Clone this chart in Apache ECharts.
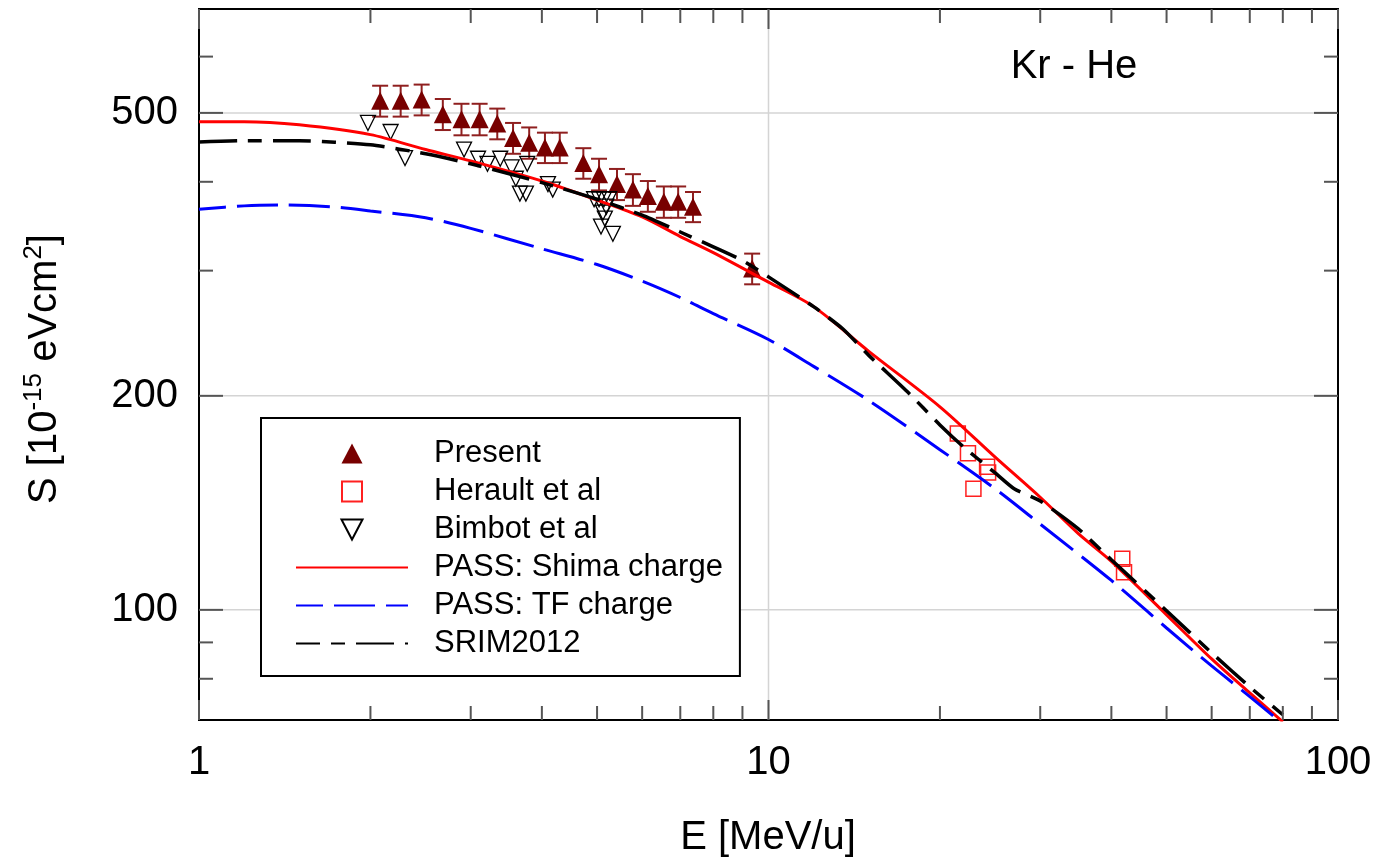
<!DOCTYPE html>
<html><head><meta charset="utf-8">
<script src="https://cdn.jsdelivr.net/npm/echarts@6/dist/echarts.min.js"></script>
<style>html,body{margin:0;padding:0;background:#fff}#c{width:1396px;height:866px}</style>
</head><body><div id="c"></div><script>
const FONT = "'Liberation Sans', Arial, Helvetica, sans-serif";

// ---- data ----
const presentE = [2.08, 2.26, 2.46, 2.68, 2.89, 3.11, 3.34, 3.56, 3.80, 4.05, 4.30, 4.73, 5.04, 5.42, 5.78, 6.14, 6.55, 6.94, 7.37, 9.36];
const presentS = [520, 520, 522, 498, 490, 490, 483, 461, 454, 447, 447, 425, 410, 397, 390, 382, 375, 375, 369, 302];
const presentErr = [26, 26, 26, 25, 25, 25, 24, 23, 23, 22, 22, 21, 21, 20, 20, 19, 19, 19, 18, 15];

const heraultE = [21.5, 22.4, 22.9, 24.2, 24.3, 41.8, 42.1];
const heraultS = [177, 166, 148, 159, 156, 118, 113];

const bimbotE = [1.98, 2.17, 2.30, 2.92, 3.09, 3.21, 3.38, 3.54, 3.60, 3.66, 3.75, 3.77, 4.10, 4.18, 4.94, 5.04, 5.14, 5.25, 5.19, 5.12, 5.16, 5.08, 5.33];
const bimbotS = [484, 470, 432, 444, 431, 424, 431, 419, 404, 385, 385, 424, 397, 390, 378, 378, 378, 378, 369, 362, 355, 346, 338];

const shimaE = [1, 1.2, 1.5, 2, 2.5, 3, 4, 5, 6, 7, 8, 10, 12, 15, 20, 25, 30, 35, 40, 50, 60, 70, 80];
const shimaS = [486, 486, 481, 466, 444, 428, 401, 377, 357, 335, 318, 289, 267, 231, 193, 164, 144, 128, 117, 98.4, 85.3, 76.4, 69.6];

const tfE = [1, 1.2, 1.4, 1.7, 2, 2.5, 3, 4, 5, 6, 7, 8, 10, 12, 15, 20, 25, 30, 40, 50, 60, 70, 80];
const tfS = [366, 370, 371, 369, 364, 356, 344, 322, 306, 290, 275, 261, 240, 220, 197, 168, 148, 132, 110, 94.3, 83.4, 75.5, 69.1];

const srimE = [1, 1.2, 1.5, 2, 2.5, 3, 4, 5, 6, 7, 8, 9, 10, 12, 13.5, 15, 17.5, 20, 22, 25, 27, 30, 35, 40, 50, 60, 70, 80];
const srimS = [455, 457, 457, 451, 438, 424, 399, 378, 359, 340, 324, 310, 294, 267, 248.5, 228, 203, 182, 169.5, 155.8, 148, 142.3, 130, 117.6, 99.7, 87, 77.9, 71.2];

const xTickMajor = [1, 10, 100];
const xTickMinor = [2, 3, 4, 5, 6, 7, 8, 9, 20, 30, 40, 50, 60, 70, 80, 90];
const yTickMajor = [100, 200, 500];
const yTickMinor = [80, 90, 300, 400, 600];
const xGridVals = [10];
const yGridVals = [100, 200, 500];
const xTickLabels = ['1', '10', '100'];
const yTickLabels = ['100', '200', '500'];

const X_MIN = 1, X_MAX = 100, Y_MIN = 70, Y_MAX = 700;

// ---- build ----
const zip = (a, b) => a.map((v, i) => [v, b[i]]);

const tickData = [];
xTickMajor.forEach(v => tickData.push([v, 100, 0, 1]));
xTickMinor.forEach(v => tickData.push([v, 100, 0, 0]));
yTickMajor.forEach(v => tickData.push([1, v, 1, 1]));
yTickMinor.forEach(v => tickData.push([1, v, 1, 0]));

const gridData = [];
xGridVals.forEach(v => gridData.push([v, 100, 0]));
yGridVals.forEach(v => gridData.push([1, v, 1]));

const labelData = [];
xTickMajor.forEach((v, i) => labelData.push([v, Y_MIN, 0, i]));
yTickMajor.forEach((v, i) => labelData.push([X_MIN, v, 1, i]));

const chart = echarts.init(document.getElementById('c'));
chart.setOption({
  animation: false,
  backgroundColor: '#fff',
  grid: { left: 199, top: 9, width: 1139, height: 711, show: true, borderColor: '#000', borderWidth: 2, backgroundColor: 'transparent' },
  xAxis: { type: 'log', logBase: 10, min: X_MIN, max: X_MAX,
    axisLine: { show: false }, axisTick: { show: false }, axisLabel: { show: false }, splitLine: { show: false } },
  yAxis: { type: 'log', logBase: 10, min: Y_MIN, max: Y_MAX,
    axisLine: { show: false }, axisTick: { show: false }, axisLabel: { show: false }, splitLine: { show: false } },
  legend: {
    orient: 'vertical', left: 261, top: 418,
    padding: [20, 17, 17, 34],
    itemWidth: 112, itemHeight: 20, itemGap: 7,
    symbolKeepAspect: true,
    backgroundColor: '#fff', borderColor: '#000', borderWidth: 2,
    textStyle: { fontFamily: FONT, fontSize: 31, color: '#000', padding: [0, 0, 0, 21] },
    selectedMode: false,
    data: [
      { name: 'Present', icon: 'path://M10,0L20,19L0,19Z' },
      { name: 'Herault et al', icon: 'path://M0,0L19,0L19,19L0,19Z' },
      { name: 'Bimbot et al', icon: 'path://M0,0L20,0L10,19Z' },
      { name: 'PASS: Shima charge', itemStyle: { opacity: 0 } },
      { name: 'PASS: TF charge', itemStyle: { opacity: 0 } },
      { name: 'SRIM2012', itemStyle: { opacity: 0 } }
    ]
  },
  graphic: [
    { type: 'text', x: 1074, y: 67, style: { text: 'Kr - He', fontFamily: FONT, fontSize: 40, fill: '#000', textAlign: 'center', textVerticalAlign: 'middle' } },
    { type: 'text', x: 768, y: 838, style: { text: 'E [MeV/u]', fontFamily: FONT, fontSize: 40, fill: '#000', textAlign: 'center', textVerticalAlign: 'middle' } },
    { type: 'text', x: 45, y: 369, rotation: Math.PI / 2,
      style: { text: '{a|S [10}{b|-15}{a| eVcm}{b|2}{a|]}', fill: '#000', textAlign: 'center', textVerticalAlign: 'middle',
        rich: { a: { fontFamily: FONT, fontSize: 40, lineHeight: 48 }, b: { fontFamily: FONT, fontSize: 26, lineHeight: 26, verticalAlign: 'top' } } } }
  ],
  series: [
    { name: 'gridlines', type: 'custom', z: 1, silent: true, data: gridData,
      renderItem: (params, api) => {
        const cs = params.coordSys; const p = api.coord([api.value(0), api.value(1)]);
        const st = { stroke: '#d4d4d4', lineWidth: 1.5 };
        if (api.value(2) === 0) return { type: 'line', shape: { x1: p[0], y1: cs.y, x2: p[0], y2: cs.y + cs.height }, style: st };
        return { type: 'line', shape: { x1: cs.x, y1: p[1], x2: cs.x + cs.width, y2: p[1] }, style: st };
      } },
    { name: 'errorbars', type: 'custom', z: 2, silent: true,
      data: presentE.map((e, i) => [e, presentS[i], presentErr[i]]),
      renderItem: (params, api) => {
        const e = api.value(0), s = api.value(1), d = api.value(2);
        const t = api.coord([e, s + d]), b = api.coord([e, s - d]);
        const st = { stroke: '#8f1f1f', lineWidth: 2 };
        const w = 8;
        return { type: 'group', children: [
          { type: 'line', shape: { x1: t[0], y1: t[1], x2: b[0], y2: b[1] }, style: st },
          { type: 'line', shape: { x1: t[0] - w, y1: t[1], x2: t[0] + w, y2: t[1] }, style: st },
          { type: 'line', shape: { x1: b[0] - w, y1: b[1], x2: b[0] + w, y2: b[1] }, style: st }
        ] };
      } },
    { name: 'Present', type: 'scatter', z: 3, data: zip(presentE, presentS), symbol: 'triangle', symbolSize: 18,
      itemStyle: { color: '#780000', opacity: 1 } },
    { name: 'Herault et al', type: 'scatter', z: 3, data: zip(heraultE, heraultS), symbol: 'rect', symbolSize: 15,
      itemStyle: { color: 'rgba(255,255,255,0)', borderColor: '#ff2020', borderWidth: 1.5, opacity: 1 } },
    { name: 'Bimbot et al', type: 'scatter', z: 3, data: zip(bimbotE, bimbotS), symbol: 'triangle', symbolRotate: 180, symbolSize: 15,
      itemStyle: { color: 'rgba(255,255,255,0)', borderColor: '#000', borderWidth: 1.3, opacity: 1 } },
    { name: 'PASS: Shima charge', type: 'line', z: 4, data: zip(shimaE, shimaS), smooth: 0.3, symbol: 'none', showSymbol: false,
      lineStyle: { color: '#ff0000', width: 3 }, itemStyle: { color: '#ff0000' } },
    { name: 'PASS: TF charge', type: 'line', z: 4, data: zip(tfE, tfS), smooth: 0.3, symbol: 'none', showSymbol: false,
      lineStyle: { color: '#0000ff', width: 3, type: [41, 11], dashOffset: 14 }, itemStyle: { color: '#0000ff' } },
    { name: 'SRIM2012', type: 'line', z: 4, data: zip(srimE, srimS), smooth: 0.2, symbol: 'none', showSymbol: false,
      lineStyle: { color: '#000', width: 3.5, type: [38, 11, 14, 11] }, itemStyle: { color: '#000' } },
    { name: 'ticks', type: 'custom', z: 5, silent: true, data: tickData,
      renderItem: (params, api) => {
        const cs = params.coordSys; const p = api.coord([api.value(0), api.value(1)]);
        const major = api.value(3) === 1;
        const st = { stroke: '#555', lineWidth: 2 };
        if (api.value(2) === 0) {
          const len = major ? 20 : 14;
          return { type: 'group', children: [
            { type: 'line', shape: { x1: p[0], y1: cs.y + cs.height, x2: p[0], y2: cs.y + cs.height - len }, style: st },
            { type: 'line', shape: { x1: p[0], y1: cs.y, x2: p[0], y2: cs.y + len }, style: st }
          ] };
        }
        const len = major ? 24 : 14;
        return { type: 'group', children: [
          { type: 'line', shape: { x1: cs.x, y1: p[1], x2: cs.x + len, y2: p[1] }, style: st },
          { type: 'line', shape: { x1: cs.x + cs.width, y1: p[1], x2: cs.x + cs.width - len, y2: p[1] }, style: st }
        ] };
      } },
    { name: 'ticklabels', type: 'custom', z: 5, silent: true, data: labelData, clip: false,
      renderItem: (params, api) => {
        const p = api.coord([api.value(0), api.value(1)]);
        const idx = api.value(3);
        if (api.value(2) === 0) {
          return { type: 'text', x: p[0], y: p[1] + 43, style: { text: xTickLabels[idx], fontFamily: FONT, fontSize: 40, fill: '#000', textAlign: 'center', textVerticalAlign: 'middle' } };
        }
        return { type: 'text', x: p[0] - 21, y: p[1], style: { text: yTickLabels[idx], fontFamily: FONT, fontSize: 40, fill: '#000', textAlign: 'right', textVerticalAlign: 'middle' } };
      } }
  ]
});
</script></body></html>
